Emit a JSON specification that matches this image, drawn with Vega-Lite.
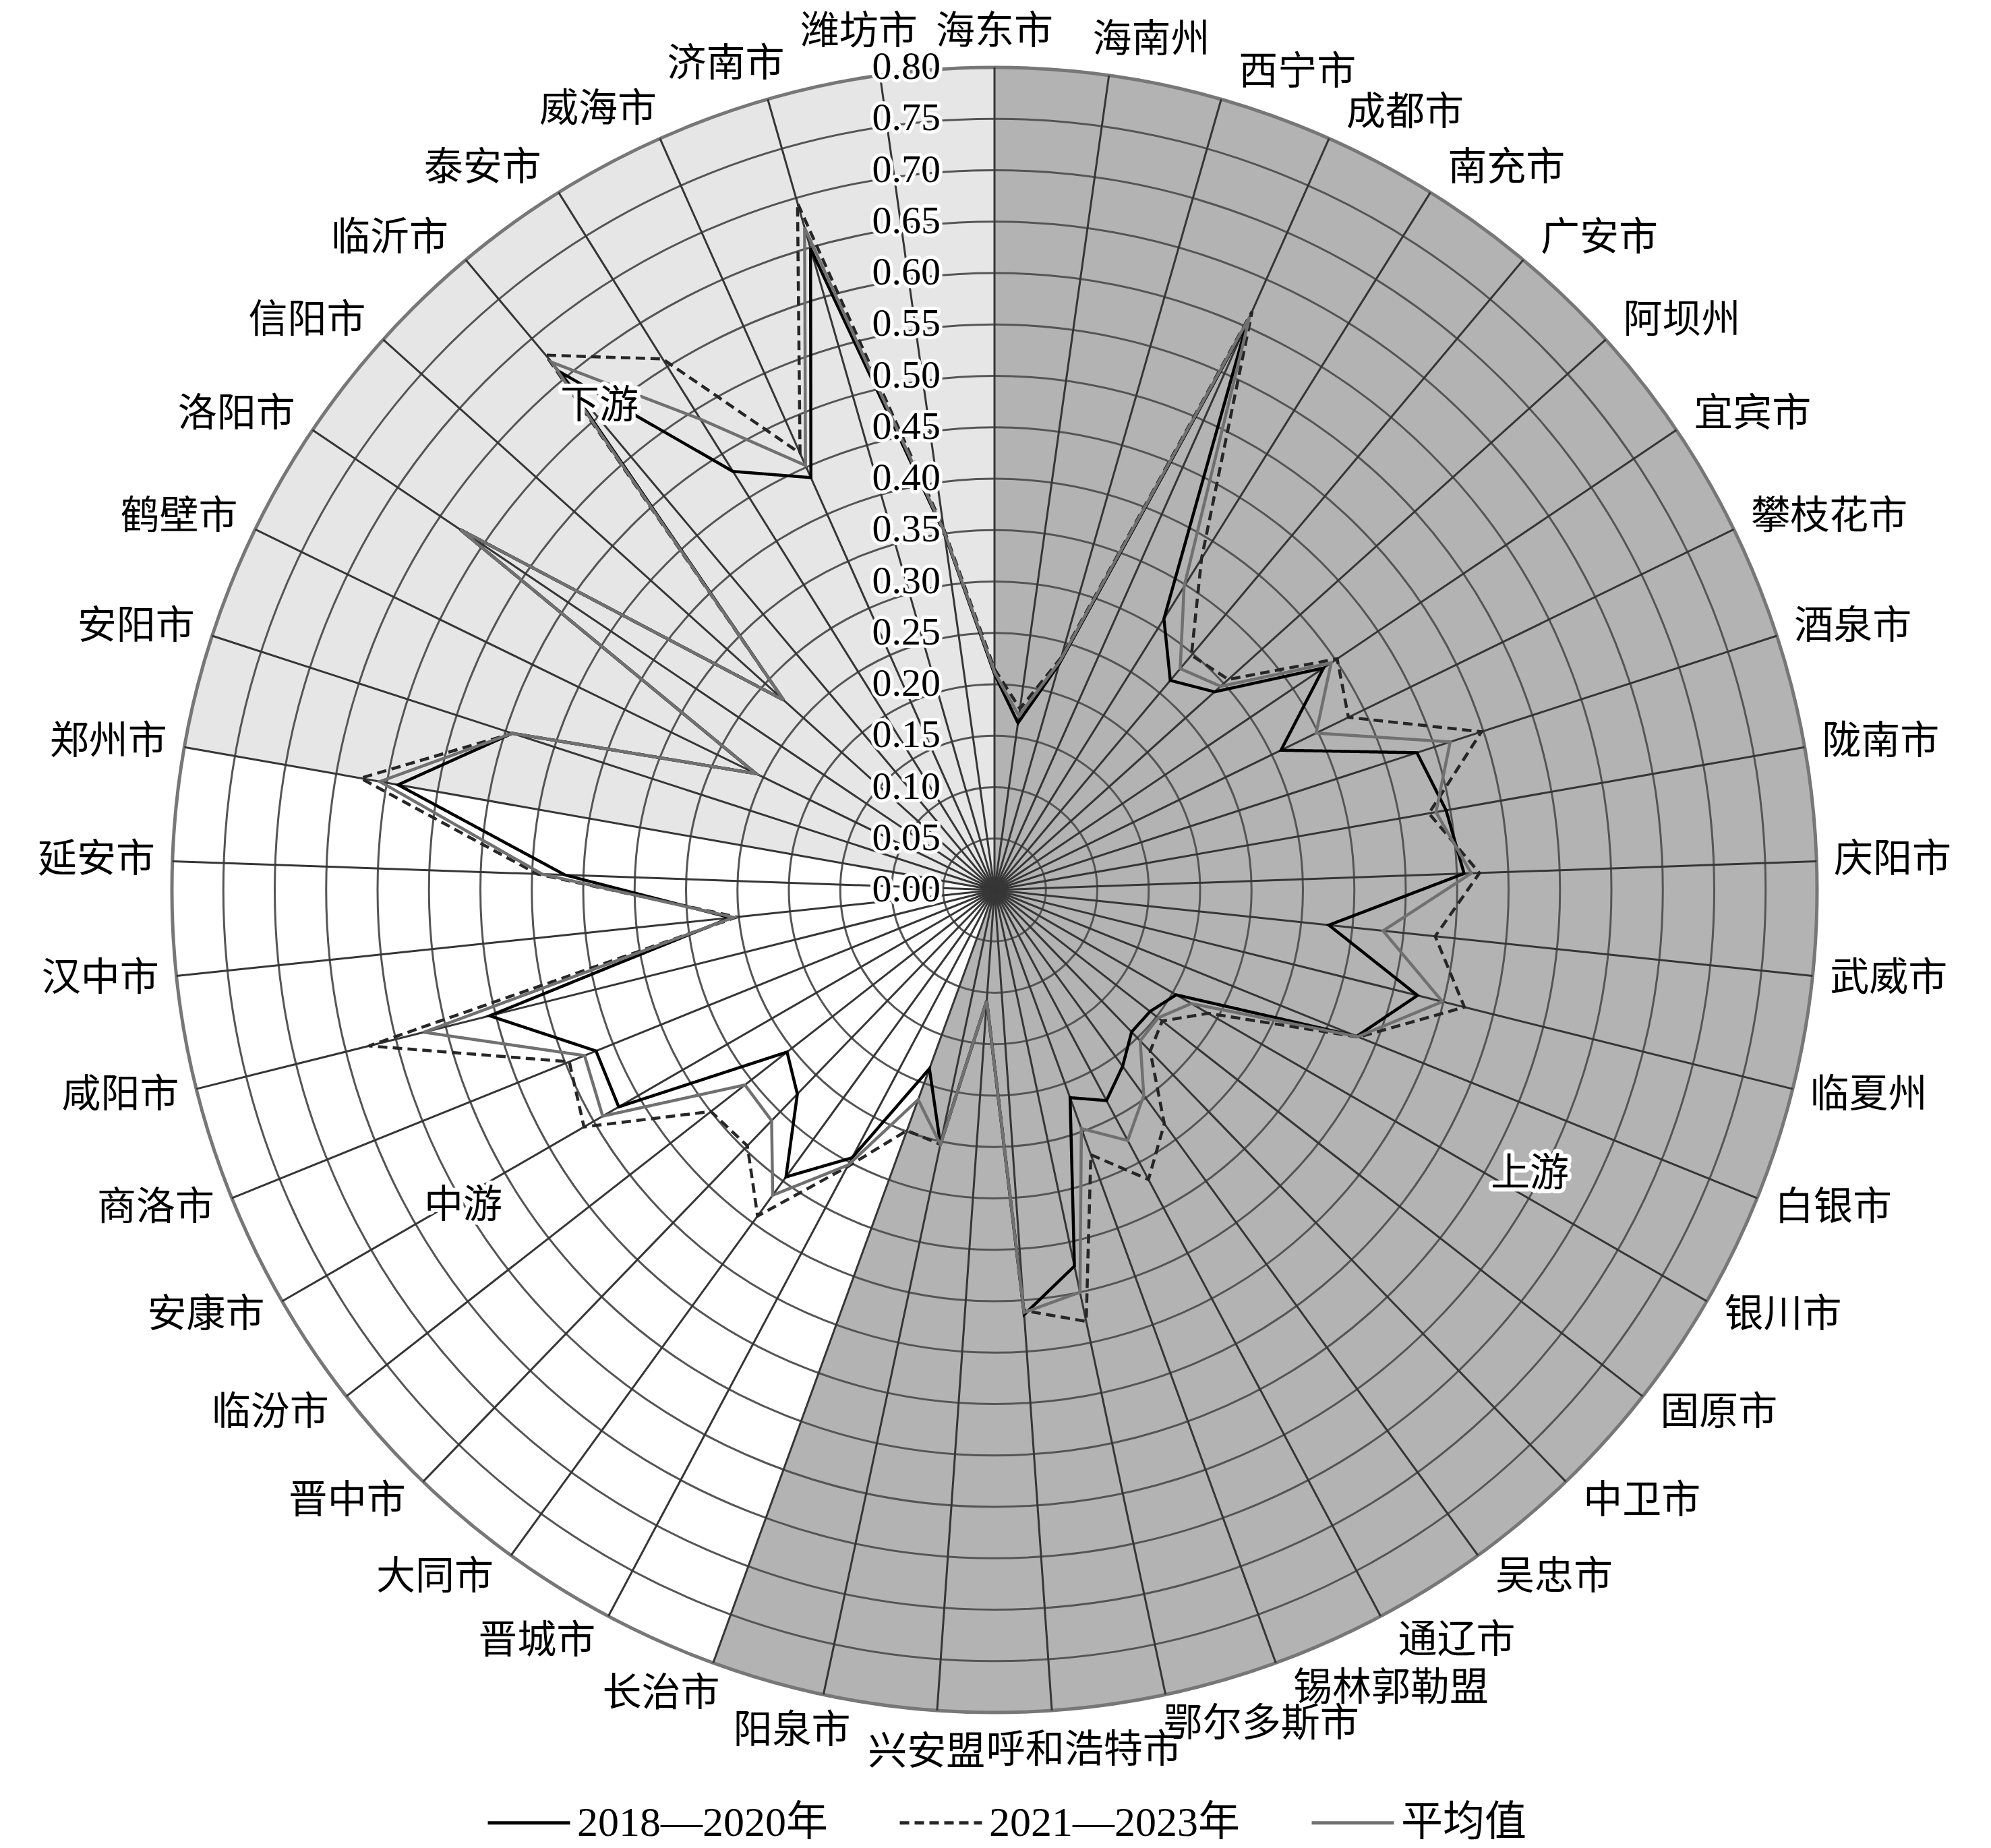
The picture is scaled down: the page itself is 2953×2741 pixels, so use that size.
{
  "$schema": "https://vega.github.io/schema/vega-lite/v6.json",
  "width": 2440,
  "height": 2440,
  "autosize": {"type": "none"},
  "padding": {"left": 255, "top": 100, "right": 258, "bottom": 201},
  "background": "white",
  "config": {"view": {"stroke": null}},
  "datasets": {
    "cities": [
      {"city":"海东市","region":"上游","2018—2020年":0.210,"2021—2023年":0.215,"平均值":0.212},
      {"city":"海南州","region":"上游","2018—2020年":0.164,"2021—2023年":0.178,"平均值":0.171},
      {"city":"西宁市","region":"上游","2018—2020年":0.229,"2021—2023年":0.235,"平均值":0.232},
      {"city":"成都市","region":"上游","2018—2020年":0.604,"2021—2023年":0.616,"平均值":0.610},
      {"city":"南充市","region":"上游","2018—2020年":0.311,"2021—2023年":0.380,"平均值":0.348},
      {"city":"广安市","region":"上游","2018—2020年":0.266,"2021—2023年":0.298,"平均值":0.281},
      {"city":"阿坝州","region":"上游","2018—2020年":0.288,"2021—2023年":0.306,"平均值":0.296},
      {"city":"宜宾市","region":"上游","2018—2020年":0.386,"2021—2023年":0.402,"平均值":0.395},
      {"city":"攀枝花市","region":"上游","2018—2020年":0.310,"2021—2023年":0.383,"平均值":0.348},
      {"city":"酒泉市","region":"上游","2018—2020年":0.432,"2021—2023年":0.498,"平均值":0.466},
      {"city":"陇南市","region":"上游","2018—2020年":0.446,"2021—2023年":0.429,"平均值":0.436},
      {"city":"庆阳市","region":"上游","2018—2020年":0.457,"2021—2023年":0.472,"平均值":0.464},
      {"city":"武威市","region":"上游","2018—2020年":0.327,"2021—2023年":0.431,"平均值":0.380},
      {"city":"临夏州","region":"上游","2018—2020年":0.424,"2021—2023年":0.471,"平均值":0.449},
      {"city":"白银市","region":"上游","2018—2020年":0.380,"2021—2023年":0.382,"平均值":0.381},
      {"city":"银川市","region":"上游","2018—2020年":0.204,"2021—2023年":0.240,"平均值":0.221},
      {"city":"固原市","region":"上游","2018—2020年":0.192,"2021—2023年":0.207,"平均值":0.202},
      {"city":"中卫市","region":"上游","2018—2020年":0.192,"2021—2023年":0.218,"平均值":0.204},
      {"city":"吴忠市","region":"上游","2018—2020年":0.212,"2021—2023年":0.281,"平均值":0.247},
      {"city":"通辽市","region":"上游","2018—2020年":0.232,"2021—2023年":0.319,"平均值":0.276},
      {"city":"锡林郭勒盟","region":"上游","2018—2020年":0.215,"2021—2023年":0.274,"平均值":0.247},
      {"city":"鄂尔多斯市","region":"上游","2018—2020年":0.374,"2021—2023年":0.429,"平均值":0.400},
      {"city":"呼和浩特市","region":"上游","2018—2020年":0.414,"2021—2023年":0.410,"平均值":0.412},
      {"city":"兴安盟","region":"上游","2018—2020年":0.108,"2021—2023年":0.108,"平均值":0.108},
      {"city":"阳泉市","region":"上游","2018—2020年":0.253,"2021—2023年":0.253,"平均值":0.253},
      {"city":"长治市","region":"中游","2018—2020年":0.185,"2021—2023年":0.249,"平均值":0.217},
      {"city":"晋城市","region":"中游","2018—2020年":0.295,"2021—2023年":0.305,"平均值":0.303},
      {"city":"大同市","region":"中游","2018—2020年":0.345,"2021—2023年":0.392,"平均值":0.367},
      {"city":"晋中市","region":"中游","2018—2020年":0.276,"2021—2023年":0.346,"平均值":0.312},
      {"city":"临汾市","region":"中游","2018—2020年":0.256,"2021—2023年":0.350,"平均值":0.308},
      {"city":"安康市","region":"中游","2018—2020年":0.422,"2021—2023年":0.461,"平均值":0.440},
      {"city":"商洛市","region":"中游","2018—2020年":0.418,"2021—2023年":0.446,"平均值":0.430},
      {"city":"咸阳市","region":"中游","2018—2020年":0.506,"2021—2023年":0.627,"平均值":0.572},
      {"city":"汉中市","region":"中游","2018—2020年":0.258,"2021—2023年":0.252,"平均值":0.255},
      {"city":"延安市","region":"中游","2018—2020年":0.418,"2021—2023年":0.445,"平均值":0.440},
      {"city":"郑州市","region":"下游","2018—2020年":0.589,"2021—2023年":0.626,"平均值":0.607},
      {"city":"安阳市","region":"下游","2018—2020年":0.493,"2021—2023年":0.493,"平均值":0.493},
      {"city":"鹤壁市","region":"下游","2018—2020年":0.258,"2021—2023年":0.258,"平均值":0.258},
      {"city":"洛阳市","region":"下游","2018—2020年":0.627,"2021—2023年":0.627,"平均值":0.627},
      {"city":"信阳市","region":"下游","2018—2020年":0.276,"2021—2023年":0.276,"平均值":0.276},
      {"city":"临沂市","region":"下游","2018—2020年":0.658,"2021—2023年":0.679,"平均值":0.670},
      {"city":"泰安市","region":"下游","2018—2020年":0.480,"2021—2023年":0.609,"平均值":0.540},
      {"city":"威海市","region":"下游","2018—2020年":0.439,"2021—2023年":0.465,"平均值":0.452},
      {"city":"济南市","region":"下游","2018—2020年":0.649,"2021—2023年":0.695,"平均值":0.670},
      {"city":"潍坊市","region":"下游","2018—2020年":0.350,"2021—2023年":0.355,"平均值":0.352}
    ],
    "ticks": [
      {"level":0.00},{"level":0.05},{"level":0.10},{"level":0.15},{"level":0.20},{"level":0.25},
      {"level":0.30},{"level":0.35},{"level":0.40},{"level":0.45},{"level":0.50},{"level":0.55},
      {"level":0.60},{"level":0.65},{"level":0.70},{"level":0.75},{"level":0.80}
    ]
  },
  "layer": [
    {
      "data": {"name": "cities"},
      "transform": [
        {"window": [{"op": "row_number", "as": "idx"}]},
        {"joinaggregate": [{"op": "count", "as": "n"}]},
        {"calculate": "360*(datum.idx-1)/datum.n", "as": "a0"},
        {"calculate": "360*datum.idx/datum.n", "as": "a1"},
        {"calculate": "0.8", "as": "rim"}
      ],
      "mark": {"type": "arc", "strokeWidth": 1.5},
      "encoding": {
        "theta": {"field": "a0", "type": "quantitative", "stack": null, "scale": {"type": "linear", "domain": [0, 360], "range": [0, 6.283185307179586], "zero": false, "nice": false}},
        "theta2": {"field": "a1"},
        "radius": {"field": "rim", "type": "quantitative", "scale": {"type": "linear", "domain": [0, 0.8], "range": [0, 1220], "zero": true, "nice": false}},
        "fill": {"field": "region", "type": "nominal", "legend": null, "scale": {"domain": ["上游", "中游", "下游"], "range": ["#b3b3b3", "#ffffff", "#e6e6e6"]}},
        "stroke": {"field": "region", "type": "nominal", "legend": null, "scale": {"domain": ["上游", "中游", "下游"], "range": ["#b3b3b3", "#ffffff", "#e6e6e6"]}}
      }
    },
    {
      "data": {"name": "ticks"},
      "transform": [
        {"filter": "datum.level > 0 && datum.level < 0.79"},
        {"calculate": "0", "as": "a0"},
        {"calculate": "360", "as": "a1"}
      ],
      "mark": {"type": "arc", "filled": false, "stroke": "#555555", "strokeWidth": 3},
      "encoding": {
        "theta": {"field": "a0", "type": "quantitative", "stack": null, "scale": {"type": "linear", "domain": [0, 360], "range": [0, 6.283185307179586], "zero": false, "nice": false}},
        "theta2": {"field": "a1"},
        "radius": {"field": "level", "type": "quantitative", "scale": {"type": "linear", "domain": [0, 0.8], "range": [0, 1220], "zero": true, "nice": false}}
      }
    },
    {
      "data": {"name": "ticks"},
      "transform": [
        {"filter": "datum.level > 0.79"},
        {"calculate": "0", "as": "a0"},
        {"calculate": "360", "as": "a1"}
      ],
      "mark": {"type": "arc", "filled": false, "stroke": "#777777", "strokeWidth": 5},
      "encoding": {
        "theta": {"field": "a0", "type": "quantitative", "stack": null, "scale": {"type": "linear", "domain": [0, 360], "range": [0, 6.283185307179586], "zero": false, "nice": false}},
        "theta2": {"field": "a1"},
        "radius": {"field": "level", "type": "quantitative", "scale": {"type": "linear", "domain": [0, 0.8], "range": [0, 1220], "zero": true, "nice": false}}
      }
    },
    {
      "data": {"name": "cities"},
      "transform": [
        {"window": [{"op": "row_number", "as": "idx"}]},
        {"joinaggregate": [{"op": "count", "as": "n"}]},
        {"calculate": "2*PI*(datum.idx-1)/datum.n", "as": "rad"},
        {"calculate": "0.8*sin(datum.rad)", "as": "ex"},
        {"calculate": "0.8*cos(datum.rad)", "as": "ey"},
        {"calculate": "0", "as": "cx"}
      ],
      "mark": {"type": "rule", "stroke": "#363636", "strokeWidth": 3},
      "encoding": {
        "x": {"field": "ex", "type": "quantitative", "axis": null, "scale": {"domain": [-0.8, 0.8], "nice": false, "zero": false}},
        "y": {"field": "ey", "type": "quantitative", "axis": null, "scale": {"domain": [-0.8, 0.8], "nice": false, "zero": false}},
        "x2": {"field": "cx"},
        "y2": {"field": "cx"}
      }
    },
    {
      "data": {"name": "cities"},
      "transform": [
        {"window": [{"op": "row_number", "as": "idx"}]},
        {"joinaggregate": [{"op": "count", "as": "n"}]},
        {"fold": ["2018—2020年", "2021—2023年", "平均值"], "as": ["series", "value"]},
        {"calculate": "2*PI*(datum.idx-1)/datum.n", "as": "rad"},
        {"calculate": "datum.value*sin(datum.rad)", "as": "px"},
        {"calculate": "datum.value*cos(datum.rad)", "as": "py"}
      ],
      "mark": {"type": "line", "interpolate": "linear-closed", "strokeWidth": 4.5},
      "encoding": {
        "x": {"field": "px", "type": "quantitative", "axis": null, "scale": {"domain": [-0.8, 0.8], "nice": false, "zero": false}},
        "y": {"field": "py", "type": "quantitative", "axis": null, "scale": {"domain": [-0.8, 0.8], "nice": false, "zero": false}},
        "order": {"field": "idx", "type": "quantitative"},
        "color": {
          "field": "series", "type": "nominal", "title": null,
          "scale": {"domain": ["2018—2020年", "2021—2023年", "平均值"], "range": ["#000000", "#262626", "#707070"]},
          "legend": {"orient": "none", "legendX": 466, "legendY": 2540, "direction": "horizontal", "symbolType": "stroke", "symbolSize": 14884, "symbolStrokeWidth": 5, "labelFont": "'Liberation Serif', 'Noto Sans CJK SC', serif", "labelFontSize": 62, "labelColor": "#000000", "labelLimit": 0, "columnPadding": 95, "labelOffset": 8, "padding": 0}
        },
        "strokeDash": {
          "field": "series", "type": "nominal", "title": null,
          "scale": {"domain": ["2018—2020年", "2021—2023年", "平均值"], "range": [[1, 0], [14, 8], [1, 0]]},
          "legend": {"orient": "none", "legendX": 466, "legendY": 2540, "direction": "horizontal", "symbolType": "stroke", "symbolSize": 14884, "symbolStrokeWidth": 5, "labelFont": "'Liberation Serif', 'Noto Sans CJK SC', serif", "labelFontSize": 62, "labelColor": "#000000", "labelLimit": 0, "columnPadding": 95, "labelOffset": 8, "padding": 0}
        }
      }
    },
    {
      "data": {"name": "ticks"},
      "transform": [{"calculate": "0", "as": "cx"}],
      "mark": {"type": "text", "align": "right", "baseline": "middle", "dx": -80, "font": "'Liberation Serif', serif", "fontSize": 58, "stroke": "white", "strokeWidth": 10, "strokeJoin": "round", "fill": "white"},
      "encoding": {
        "x": {"field": "cx", "type": "quantitative", "scale": {"domain": [-0.8, 0.8], "nice": false, "zero": false}},
        "y": {"field": "level", "type": "quantitative", "scale": {"domain": [-0.8, 0.8], "nice": false, "zero": false}},
        "text": {"field": "level", "type": "quantitative", "format": ".2f"}
      }
    },
    {
      "data": {"name": "ticks"},
      "transform": [{"calculate": "0", "as": "cx"}],
      "mark": {"type": "text", "align": "right", "baseline": "middle", "dx": -80, "font": "'Liberation Serif', serif", "fontSize": 58, "fill": "black"},
      "encoding": {
        "x": {"field": "cx", "type": "quantitative", "scale": {"domain": [-0.8, 0.8], "nice": false, "zero": false}},
        "y": {"field": "level", "type": "quantitative", "scale": {"domain": [-0.8, 0.8], "nice": false, "zero": false}},
        "text": {"field": "level", "type": "quantitative", "format": ".2f"}
      }
    },
    {
      "data": {"name": "cities"},
      "transform": [
        {"window": [{"op": "row_number", "as": "idx"}]},
        {"joinaggregate": [{"op": "count", "as": "n"}]},
        {"calculate": "2*PI*(datum.idx-1)/datum.n", "as": "rad"},
        {"calculate": "sin(datum.rad) >= 0 ? clamp(4*sin(datum.rad), 0, 1) : clamp(2*sin(datum.rad), -1, 0)", "as": "sx"},
        {"calculate": "0.8*sin(datum.rad) + datum.sx*(length(datum.city)*0.019 + 0.017)", "as": "lx"},
        {"calculate": "(cos(datum.rad) > 0.95 && abs(datum.sx) < 0.3) ? 0.834 : cos(datum.rad)*(0.827 + 0.017*(1 - abs(datum.sx)))", "as": "ly"}
      ],
      "mark": {"type": "text", "align": "center", "baseline": "middle", "font": "'Liberation Serif', 'Noto Sans CJK SC', serif", "fontSize": 58, "fill": "black"},
      "encoding": {
        "x": {"field": "lx", "type": "quantitative", "scale": {"domain": [-0.8, 0.8], "nice": false, "zero": false}},
        "y": {"field": "ly", "type": "quantitative", "scale": {"domain": [-0.8, 0.8], "nice": false, "zero": false}},
        "text": {"field": "city", "type": "nominal"}
      }
    },
    {
      "data": {"values": [{"label": "上游", "lx": 0.5207, "ly": -0.2767}, {"label": "中游", "lx": -0.5167, "ly": -0.3075}, {"label": "下游", "lx": -0.3843, "ly": 0.4702}]},
      "mark": {"type": "text", "align": "center", "baseline": "middle", "font": "'Noto Sans CJK SC', sans-serif", "fontSize": 58, "fill": "white", "stroke": "white", "strokeWidth": 12, "strokeJoin": "round"},
      "encoding": {
        "x": {"field": "lx", "type": "quantitative", "scale": {"domain": [-0.8, 0.8], "nice": false, "zero": false}},
        "y": {"field": "ly", "type": "quantitative", "scale": {"domain": [-0.8, 0.8], "nice": false, "zero": false}},
        "text": {"field": "label", "type": "nominal"}
      }
    },
    {
      "data": {"values": [{"label": "上游", "lx": 0.5207, "ly": -0.2767}, {"label": "中游", "lx": -0.5167, "ly": -0.3075}, {"label": "下游", "lx": -0.3843, "ly": 0.4702}]},
      "mark": {"type": "text", "align": "center", "baseline": "middle", "font": "'Noto Sans CJK SC', sans-serif", "fontSize": 58, "fill": "black"},
      "encoding": {
        "x": {"field": "lx", "type": "quantitative", "scale": {"domain": [-0.8, 0.8], "nice": false, "zero": false}},
        "y": {"field": "ly", "type": "quantitative", "scale": {"domain": [-0.8, 0.8], "nice": false, "zero": false}},
        "text": {"field": "label", "type": "nominal"}
      }
    }
  ]
}
